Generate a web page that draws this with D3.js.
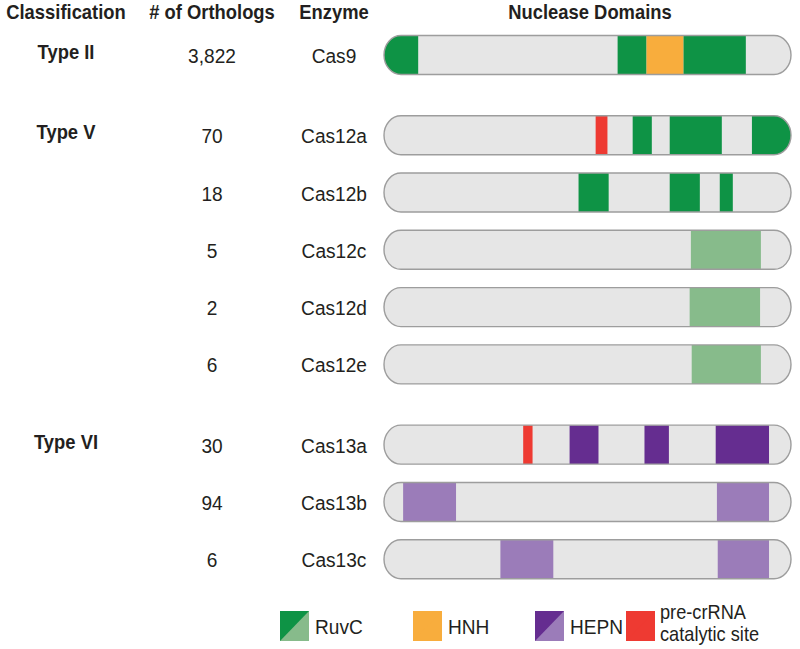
<!DOCTYPE html>
<html>
<head>
<meta charset="utf-8">
<script src="https://cdn.jsdelivr.net/npm/d3@7"></script>
<style>
  body { margin: 0; background: #fff; }
  svg { display: block; }
  text { font-family: "Liberation Sans", Arial, Helvetica, sans-serif; fill: #231f20; }
</style>
</head>
<body>
<svg id="chart" width="800" height="649"></svg>
<script>
// ---- data ----
const headers = ["Classification", "# of Orthologs", "Enzyme", "Nuclease Domains"];
const enzymes = ["Cas9", "Cas12a", "Cas12b", "Cas12c", "Cas12d", "Cas12e", "Cas13a", "Cas13b", "Cas13c"];
const orthologs = ["3,822", "70", "18", "5", "2", "6", "30", "94", "6"];
const enzymeGroup = [0, 1, 1, 1, 1, 1, 2, 2, 2];
const groupNames = ["Type II", "Type V", "Type VI"];
// domains: [enzyme, kind, start, end] on a relative length scale 0..1000
const domains = [
  ["Cas9", "RuvC", 0, 84], ["Cas9", "RuvC", 574, 645], ["Cas9", "HNH", 645, 736], ["Cas9", "RuvC", 736, 889],
  ["Cas12a", "pre", 520, 549], ["Cas12a", "RuvC", 611, 658], ["Cas12a", "RuvC", 702, 830], ["Cas12a", "RuvC", 904, 1000],
  ["Cas12b", "RuvC", 478, 552], ["Cas12b", "RuvC", 702, 776], ["Cas12b", "RuvC", 825, 857],
  ["Cas12c", "RuvCl", 754, 926],
  ["Cas12d", "RuvCl", 751, 924],
  ["Cas12e", "RuvCl", 756, 926],
  ["Cas13a", "pre", 342, 365], ["Cas13a", "HEPN", 456, 527], ["Cas13a", "HEPN", 640, 700], ["Cas13a", "HEPN", 815, 946],
  ["Cas13b", "HEPNl", 47, 177], ["Cas13b", "HEPNl", 818, 946],
  ["Cas13c", "HEPNl", 286, 416], ["Cas13c", "HEPNl", 820, 946]
];
const legendItems = [
  { label: ["RuvC"], dark: "RuvC", light: "RuvCl" },
  { label: ["HNH"], dark: "HNH", light: "HNH" },
  { label: ["HEPN"], dark: "HEPN", light: "HEPNl" },
  { label: ["pre-crRNA", "catalytic site"], dark: "pre", light: "pre" }
];
const kinds = ["RuvC", "RuvCl", "HNH", "HEPN", "HEPNl", "pre"];
const kindColors = ["#0e9345", "#87bb8b", "#f8ad3d", "#652d90", "#9b7cb9", "#ee3a32"];

// ---- scales ----
const color = d3.scaleOrdinal().domain(kinds).range(kindColors);
const slot = enzymes.map((e, i) => i + 0.4 * enzymeGroup[i]);
const y = d3.scaleLinear().domain([0, 1]).range([55, 112.3]);
const x = d3.scaleLinear().domain([0, 1000]).range([384, 791]);
const colX = { "Classification": 66, "# of Orthologs": 212, "Enzyme": 334, "Nuclease Domains": 590 };
const barH = 39;
const SX = 0.91; // horizontal condensing of the type face

const svg = d3.select("#chart");

function label(sel, tx, ty, size, weight, txt, anchor, sx) {
  return sel.append("text")
    .attr("transform", `translate(${tx},${ty}) scale(${sx},1)`)
    .attr("text-anchor", anchor || "middle")
    .attr("font-size", size).attr("font-weight", weight)
    .text(txt);
}

// headers
headers.forEach(h => label(svg, colX[h], 19, 20, "bold", h, "middle", 0.92));

// group labels
groupNames.forEach((g, gi) => {
  const first = enzymeGroup.indexOf(gi);
  label(svg, colX["Classification"], y(slot[first]) + 4, 20, "bold", g, "middle", 0.92);
});

// rows
const rows = svg.selectAll("g.row").data(enzymes).join("g")
  .attr("class", "row")
  .attr("transform", (d, i) => `translate(0,${y(slot[i])})`);

rows.each(function (d, i) {
  const g = d3.select(this);
  label(g, colX["# of Orthologs"], 8, 21, "normal", orthologs[i], "middle", SX);
  label(g, colX["Enzyme"], 8, 21, "normal", d, "middle", SX);
});

const defs = svg.append("defs");
enzymes.forEach(e => {
  defs.append("clipPath").attr("id", "clip-" + e)
    .append("rect")
    .attr("x", x(0)).attr("y", -barH / 2)
    .attr("width", x(1000) - x(0)).attr("height", barH)
    .attr("rx", 17).attr("ry", barH / 2);
});

rows.append("rect")
  .attr("x", x(0)).attr("y", -barH / 2)
  .attr("width", x(1000) - x(0)).attr("height", barH)
  .attr("rx", 17).attr("ry", barH / 2)
  .attr("fill", "#e6e6e6");

rows.append("g")
  .attr("clip-path", d => `url(#clip-${d})`)
  .selectAll("rect").data(d => domains.filter(m => m[0] === d)).join("rect")
  .attr("x", m => x(m[2])).attr("y", -barH / 2)
  .attr("width", m => x(m[3]) - x(m[2])).attr("height", barH)
  .attr("fill", m => color(m[1]));

rows.append("rect")
  .attr("x", x(0)).attr("y", -barH / 2)
  .attr("width", x(1000) - x(0)).attr("height", barH)
  .attr("rx", 17).attr("ry", barH / 2)
  .attr("fill", "none").attr("stroke", "#9d9d9d").attr("stroke-width", 1.4);

// legend
const legX = [280, 413, 535, 626];
const sw = 29;
const leg = svg.selectAll("g.leg").data(legendItems).join("g")
  .attr("class", "leg")
  .attr("transform", (d, i) => `translate(${legX[i]},611)`);
leg.append("path").attr("d", `M0,0H${sw}V${sw + 1}H0Z`).attr("fill", d => color(d.light));
leg.append("path").attr("d", `M0,0H${sw}L0,${sw + 1}Z`).attr("fill", d => color(d.dark));
leg.each(function (d) {
  const g = d3.select(this);
  if (d.label.length === 1) {
    label(g, sw + 6, 23, 21, "normal", d.label[0], "start", SX);
  } else {
    d.label.forEach((l, k) => label(g, sw + 5, 8 + k * 22, 20, "normal", l, "start", SX));
  }
});
</script>
</body>
</html>
